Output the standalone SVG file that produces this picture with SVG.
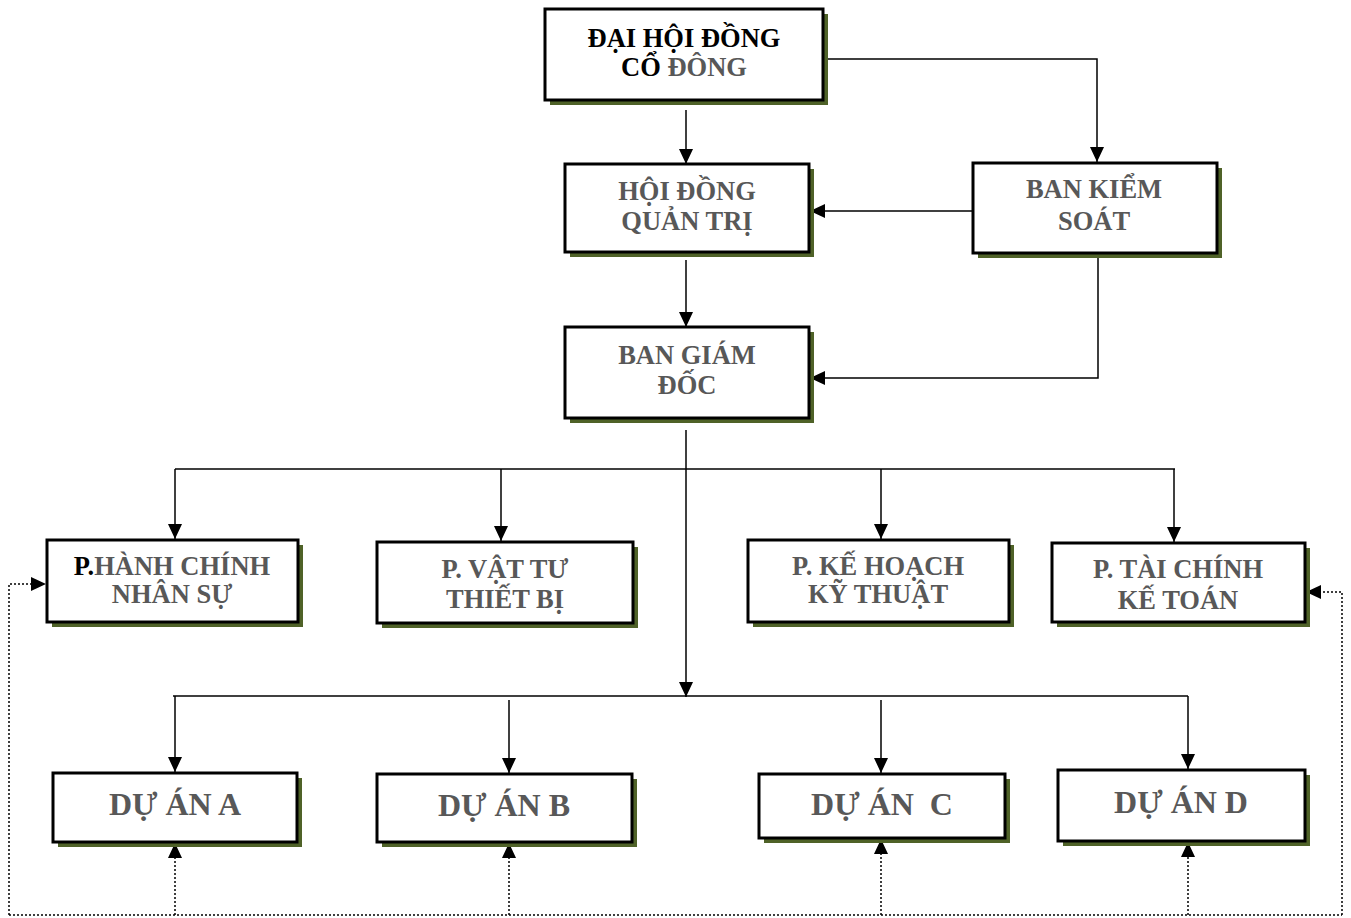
<svg xmlns="http://www.w3.org/2000/svg" width="1351" height="918" viewBox="0 0 1351 918">
<style>
.box{fill:#ffffff;stroke:#000000;stroke-width:3}
.sh{fill:#4f6228}
.t{font-family:"Liberation Serif","Times New Roman",serif;font-weight:bold;font-size:26.5px;fill:#585858;text-anchor:middle}
.big{font-size:32px}
.k{fill:#000000}
.ln{stroke:#000000;stroke-width:1.5;fill:none}
.dt{stroke:#000000;stroke-width:1.5;fill:none;stroke-dasharray:2,2}
</style>
<defs>
<marker id="ar" markerUnits="userSpaceOnUse" markerWidth="15" markerHeight="14" refX="15" refY="7" orient="auto">
<path d="M0,0 L15,7 L0,14 Z" fill="#000000"/>
</marker>
</defs>
<rect width="1351" height="918" fill="#ffffff"/>
<g id="connectors">
<line class="ln" x1="686" y1="110" x2="686" y2="164" marker-end="url(#ar)"/>
<polyline class="ln" points="827,59 1097,59 1097,162" marker-end="url(#ar)"/>
<line class="ln" x1="973" y1="211" x2="810" y2="211" marker-end="url(#ar)"/>
<line class="ln" x1="686" y1="260" x2="686" y2="327" marker-end="url(#ar)"/>
<polyline class="ln" points="1098,258 1098,378 810,378" marker-end="url(#ar)"/>
<line class="ln" x1="686" y1="430" x2="686" y2="697" marker-end="url(#ar)"/>
<line class="ln" x1="175" y1="469" x2="1175" y2="469"/>
<line class="ln" x1="175" y1="469" x2="175" y2="539" marker-end="url(#ar)"/>
<line class="ln" x1="501" y1="469" x2="501" y2="541" marker-end="url(#ar)"/>
<line class="ln" x1="881" y1="469" x2="881" y2="539" marker-end="url(#ar)"/>
<line class="ln" x1="1174" y1="469" x2="1174" y2="542" marker-end="url(#ar)"/>
<line class="ln" x1="173" y1="696" x2="1188" y2="696"/>
<line class="ln" x1="175" y1="696" x2="175" y2="772" marker-end="url(#ar)"/>
<line class="ln" x1="509" y1="700" x2="509" y2="773" marker-end="url(#ar)"/>
<line class="ln" x1="881" y1="700" x2="881" y2="773" marker-end="url(#ar)"/>
<line class="ln" x1="1188" y1="696" x2="1188" y2="769" marker-end="url(#ar)"/>
<line class="dt" x1="9" y1="915" x2="1342" y2="915"/>
<polyline class="dt" points="9,915 9,584 46,584" marker-end="url(#ar)"/>
<polyline class="dt" points="1342,915 1342,592 1306,592" marker-end="url(#ar)"/>
<line class="dt" x1="175" y1="915" x2="175" y2="843" marker-end="url(#ar)"/>
<line class="dt" x1="509" y1="915" x2="509" y2="843" marker-end="url(#ar)"/>
<line class="dt" x1="881" y1="915" x2="881" y2="839" marker-end="url(#ar)"/>
<line class="dt" x1="1188" y1="915" x2="1188" y2="842" marker-end="url(#ar)"/>
</g>
<g id="dai-hoi-dong-co-dong">
<rect class="sh" x="550" y="14" width="278" height="91"/>
<rect class="box" x="545" y="9" width="278" height="91"/>
<text class="t k" x="684" y="47">ĐẠI HỘI ĐỒNG</text>
<text class="t" x="684" y="76"><tspan class="k">CỔ</tspan> ĐÔNG</text>
</g>
<g id="hoi-dong-quan-tri">
<rect class="sh" x="570" y="169" width="244" height="88"/>
<rect class="box" x="565" y="164" width="244" height="88"/>
<text class="t" x="687" y="200">HỘI ĐỒNG</text>
<text class="t" x="687" y="230">QUẢN TRỊ</text>
</g>
<g id="ban-kiem-soat">
<rect class="sh" x="978" y="168" width="244" height="90"/>
<rect class="box" x="973" y="163" width="244" height="90"/>
<text class="t" x="1094" y="198">BAN KIỂM</text>
<text class="t" x="1094" y="230">SOÁT</text>
</g>
<g id="ban-giam-doc">
<rect class="sh" x="570" y="332" width="244" height="91"/>
<rect class="box" x="565" y="327" width="244" height="91"/>
<text class="t" x="687" y="364">BAN GIÁM</text>
<text class="t" x="687" y="394">ĐỐC</text>
</g>
<g id="p-hanh-chinh">
<rect class="sh" x="52" y="545" width="251" height="82"/>
<rect class="box" x="47" y="540" width="251" height="82"/>
<text class="t" x="172" y="575"><tspan class="k">P.</tspan>HÀNH CHÍNH</text>
<text class="t" x="172" y="603">NHÂN SỰ</text>
</g>
<g id="p-vat-tu">
<rect class="sh" x="382" y="547" width="256" height="81"/>
<rect class="box" x="377" y="542" width="256" height="81"/>
<text class="t" x="505" y="578">P. VẬT TƯ</text>
<text class="t" x="505" y="608">THIẾT BỊ</text>
</g>
<g id="p-ke-hoach">
<rect class="sh" x="753" y="545" width="261" height="82"/>
<rect class="box" x="748" y="540" width="261" height="82"/>
<text class="t" x="878" y="575">P. KẾ HOẠCH</text>
<text class="t" x="878" y="603">KỸ THUẬT</text>
</g>
<g id="p-tai-chinh">
<rect class="sh" x="1057" y="548" width="253" height="79"/>
<rect class="box" x="1052" y="543" width="253" height="79"/>
<text class="t" x="1178" y="578">P. TÀI CHÍNH</text>
<text class="t" x="1178" y="609">KẾ TOÁN</text>
</g>
<g id="du-an-a">
<rect class="sh" x="58" y="778" width="244" height="69"/>
<rect class="box" x="53" y="773" width="244" height="69"/>
<text class="t big" x="175" y="815">DỰ ÁN A</text>
</g>
<g id="du-an-b">
<rect class="sh" x="382" y="779" width="255" height="68"/>
<rect class="box" x="377" y="774" width="255" height="68"/>
<text class="t big" x="504" y="816">DỰ ÁN B</text>
</g>
<g id="du-an-c">
<rect class="sh" x="764" y="779" width="246" height="64"/>
<rect class="box" x="759" y="774" width="246" height="64"/>
<text class="t big" x="882" y="815" xml:space="preserve">DỰ ÁN  C</text>
</g>
<g id="du-an-d">
<rect class="sh" x="1063" y="775" width="247" height="71"/>
<rect class="box" x="1058" y="770" width="247" height="71"/>
<text class="t big" x="1181" y="813">DỰ ÁN D</text>
</g>
</svg>
